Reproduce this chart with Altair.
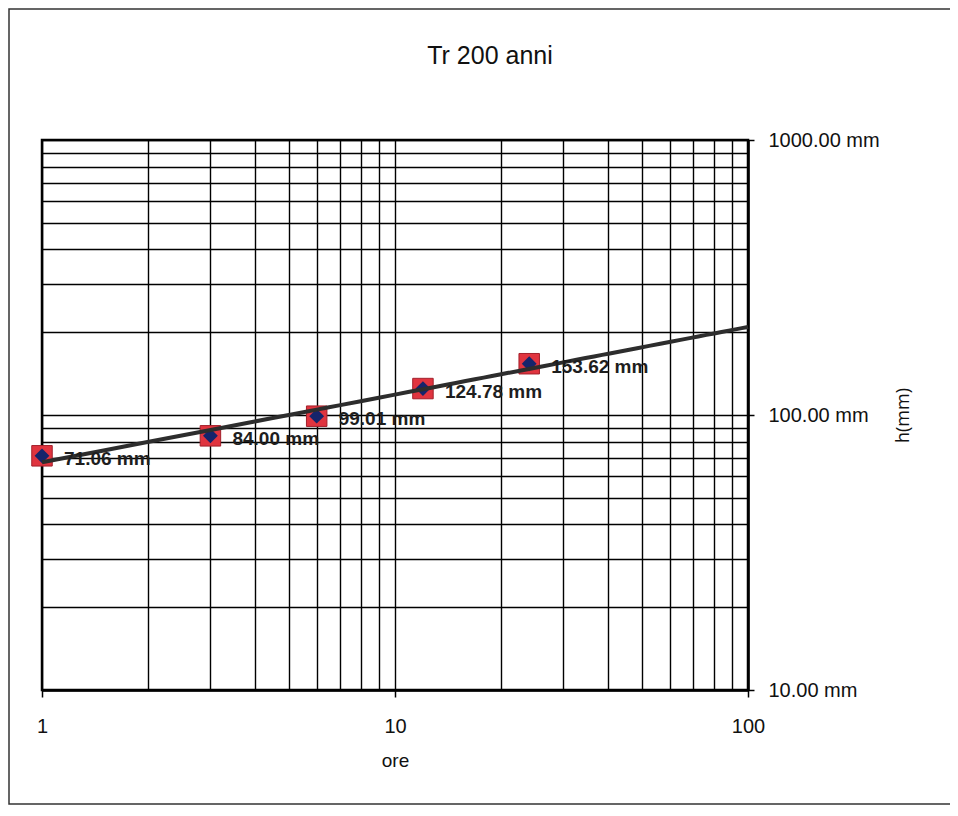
import altair as alt
import pandas as pd

# ---- data ----
durations = [1, 3, 6, 12, 24]                 # ore
heights = [71.06, 84.00, 99.01, 124.78, 153.62]  # mm
x_major = [1, 10, 100]
y_major = [10, 100, 1000]
x_grid = [1, 2, 3, 4, 5, 6, 7, 8, 9, 10, 20, 30, 40, 50, 60, 70, 80, 90, 100]
y_grid = [10, 20, 30, 40, 50, 60, 70, 80, 90, 100, 200, 300, 400, 500, 600,
          700, 800, 900, 1000]
chart_title = "Tr 200 anni"
x_title = "ore"
y_title = "h(mm)"

df = pd.DataFrame({"ore": durations, "h": heights})

W, H = 706, 550
FONT = "Liberation Sans"

x_test = "indexof(%s, datum.value) >= 0" % str(x_major)
y_test = "indexof(%s, datum.value) >= 0" % str(y_major)

xscale = alt.Scale(type="log", domain=[1, 100], nice=False)
yscale = alt.Scale(type="log", domain=[10, 1000], nice=False)

x_axis = alt.Axis(
    values=x_grid, grid=True, gridColor="black", gridWidth=1.4, gridOpacity=1,
    domainColor="black", domainWidth=2.5,
    tickColor={"condition": {"test": x_test, "value": "black"}, "value": "transparent"},
    tickSize=7, tickWidth=1.5,
    labelExpr="%s ? datum.label : ''" % x_test,
    labelOverlap=False, labelFlush=False,
    labelFont=FONT, labelFontSize=20, labelColor="#111", labelPadding=19,
    title=x_title, titleFont=FONT, titleFontSize=19, titleFontWeight="normal",
    titleColor="#111", titleX=W / 2, titleY=70, titleAlign="center",
    titleBaseline="middle",
)

y_axis = alt.Axis(
    orient="right", values=y_grid, grid=True, gridColor="black", gridWidth=1.4,
    gridOpacity=1, domainColor="black", domainWidth=2.5,
    tickColor={"condition": {"test": y_test, "value": "black"}, "value": "transparent"},
    tickSize=6, tickWidth=1.5,
    labelExpr="%s ? format(datum.value, '.2f') + ' mm' : ''" % y_test,
    labelOverlap=False, labelFlush=False,
    labelFont=FONT, labelFontSize=20, labelColor="#111", labelPadding=14,
    title=y_title, titleFont="Open Sans", titleFontSize=18, titleFontWeight="normal",
    titleColor="#111", titleX=155, titleY=H / 2, titleAngle=270,
    titleAlign="center", titleBaseline="middle",
)

X = alt.X("ore:Q", scale=xscale, axis=x_axis)
Y = alt.Y("h:Q", scale=yscale, axis=y_axis)

# outer border of the sheet (decoration)
frame = alt.Chart(pd.DataFrame({"k": [0]})).mark_rect(
    filled=False, stroke="#333", strokeWidth=1.5
).encode(
    x=alt.value(-33), x2=alt.value(960), y=alt.value(-131), y2=alt.value(664)
)

# chart title (decoration text)
title_mark = alt.Chart(pd.DataFrame({"t": [chart_title]})).mark_text(
    align="center", baseline="alphabetic", font=FONT, fontSize=25,
    color="#111"
).encode(x=alt.value(448), y=alt.value(-76), text="t:N")

squares = alt.Chart(df).mark_point(
    shape="square", size=420, filled=True, fill="#e0343f", stroke="#a3202b",
    strokeWidth=1, opacity=1
).encode(x=X, y=Y)

diamonds = alt.Chart(df).mark_point(
    shape="diamond", size=220, filled=True, color="#15246b", opacity=1
).encode(x=X, y=Y)

trend = alt.Chart(df).transform_regression(
    "ore", "h", method="pow", extent=[1, 100]
).mark_line(color="#2d2d2d", strokeWidth=4).encode(x=X, y=Y)

labels = alt.Chart(df).transform_calculate(
    label="format(datum.h, '.2f') + ' mm'"
).mark_text(
    align="left", baseline="middle", dx=22, dy=3, font=FONT, fontSize=19,
    fontWeight="bold", color="#1e1e1e"
).encode(x=X, y=Y, text="label:N")

chart = alt.layer(frame, title_mark, squares, diamonds, trend, labels).properties(
    width=W, height=H,
    autosize=alt.AutoSizeParams(type="none"),
    padding={"left": 34, "top": 132, "right": 202, "bottom": 118},
).configure_view(stroke="black", strokeWidth=2.5)

chart.save("out.html", embed_options={"renderer": "svg", "actions": False})
